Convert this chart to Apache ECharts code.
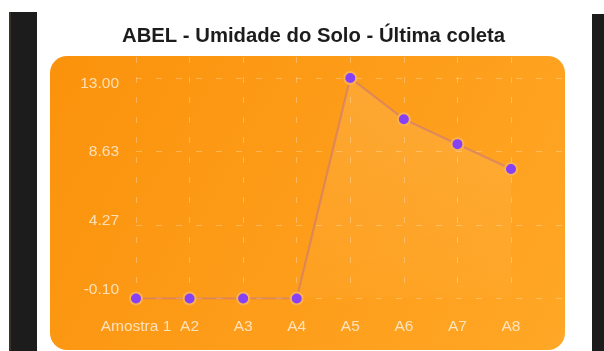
<!DOCTYPE html>
<html><head><meta charset="utf-8">
<script src="https://cdn.jsdelivr.net/npm/echarts@6/dist/echarts.min.js"></script>
<style>html,body{margin:0;padding:0;background:#fff}#c{width:604px;height:351px}</style>
</head><body><div id="c"></div>
<script>
const titleText = 'ABEL - Umidade do Solo - Última coleta';
const categories = ['Amostra 1', 'A2', 'A3', 'A4', 'A5', 'A6', 'A7', 'A8'];
const values = [-0.1, -0.1, -0.1, -0.1, 13.0, 10.55, 9.07, 7.59];
const yTickLabels = ['-0.10', '4.27', '8.63', '13.00'];
const yMin = -0.1;
const yMax = 13.0;

const FONT = 'Liberation Sans, Arial, sans-serif';
const labelColor = 'rgba(255,255,255,0.7)';
const gridLineStyle = { color: 'rgba(255,255,255,0.28)', width: 1, type: [6, 14] };

const chart = echarts.init(document.getElementById('c'), null, { renderer: 'canvas' });
chart.setOption({
  animation: false,
  backgroundColor: '#ffffff',
  title: {
    text: titleText, left: 117, top: 21,
    textStyle: { fontFamily: FONT, fontSize: 20.3, fontWeight: 'bold', color: '#1c1c1c' }
  },
  graphic: [
    { type: 'rect', z: -10, shape: { x: 9, y: 12, width: 28, height: 345 }, style: { fill: '#1c1c1c' } },
    { type: 'rect', z: -9, shape: { x: 9, y: 12, width: 2, height: 345 }, style: { fill: '#3a3128' } },
    { type: 'rect', z: -10, shape: { x: 592, y: 14, width: 12, height: 345 }, style: { fill: '#1c1c1c' } },
    { type: 'rect', z: -10, shape: { x: 50, y: 56, width: 515, height: 294, r: 17 },
      style: { fill: new echarts.graphic.LinearGradient(0, 0, 1, 1, [
        { offset: 0, color: '#fb920c' }, { offset: 1, color: '#ffa726' }]) } }
  ],
  grid: [
    { left: 136, right: 93, top: 78, bottom: 52.5 },   // data
    { left: 136, right: 39, top: 78, bottom: 52.5 },   // horizontal lines
    { left: 136, right: 93, top: 57, bottom: 66 },     // vertical lines
    { left: 136, right: 93, top: 83.5, bottom: 61.5 }  // y labels
  ],
  xAxis: [
    { gridIndex: 0, type: 'category', data: categories, boundaryGap: false,
      axisLine: { show: false }, axisTick: { show: false }, splitLine: { show: false },
      axisLabel: { interval: 0, margin: 20, color: labelColor, fontFamily: FONT, fontSize: 15.5 } },
    { gridIndex: 1, type: 'value', show: false },
    { gridIndex: 2, type: 'category', data: categories, boundaryGap: false,
      axisLine: { show: false }, axisTick: { show: false }, axisLabel: { show: false },
      splitLine: { show: true, interval: 0, lineStyle: gridLineStyle } },
    { gridIndex: 3, type: 'value', show: false }
  ],
  yAxis: [
    { gridIndex: 0, type: 'value', min: yMin, max: yMax, show: false },
    { gridIndex: 1, type: 'value', min: 0, max: yTickLabels.length - 1, interval: 1,
      axisLine: { show: false }, axisTick: { show: false }, axisLabel: { show: false },
      splitLine: { show: true, lineStyle: gridLineStyle } },
    { gridIndex: 2, type: 'value', show: false },
    { gridIndex: 3, type: 'value', min: 0, max: yTickLabels.length - 1, interval: 1,
      axisLine: { show: false }, axisTick: { show: false }, splitLine: { show: false },
      axisLabel: { margin: 17, color: labelColor, fontFamily: FONT, fontSize: 15.5,
        formatter: (v) => yTickLabels[Math.round(v)] } }
  ],
  series: [{
    type: 'line', xAxisIndex: 0, yAxisIndex: 0, data: values,
    symbol: 'circle', symbolSize: 12,
    itemStyle: { color: '#8641f4', borderColor: '#fbb050', borderWidth: 2 },
    lineStyle: { color: 'rgba(134,65,244,0.26)', width: 2.2 },
    areaStyle: { color: new echarts.graphic.LinearGradient(0, 0, 0, 1, [
      { offset: 0, color: 'rgba(255,255,255,0.16)' }, { offset: 1, color: 'rgba(255,255,255,0.03)' }]) },
    z: 5
  }]
});
</script></body></html>
